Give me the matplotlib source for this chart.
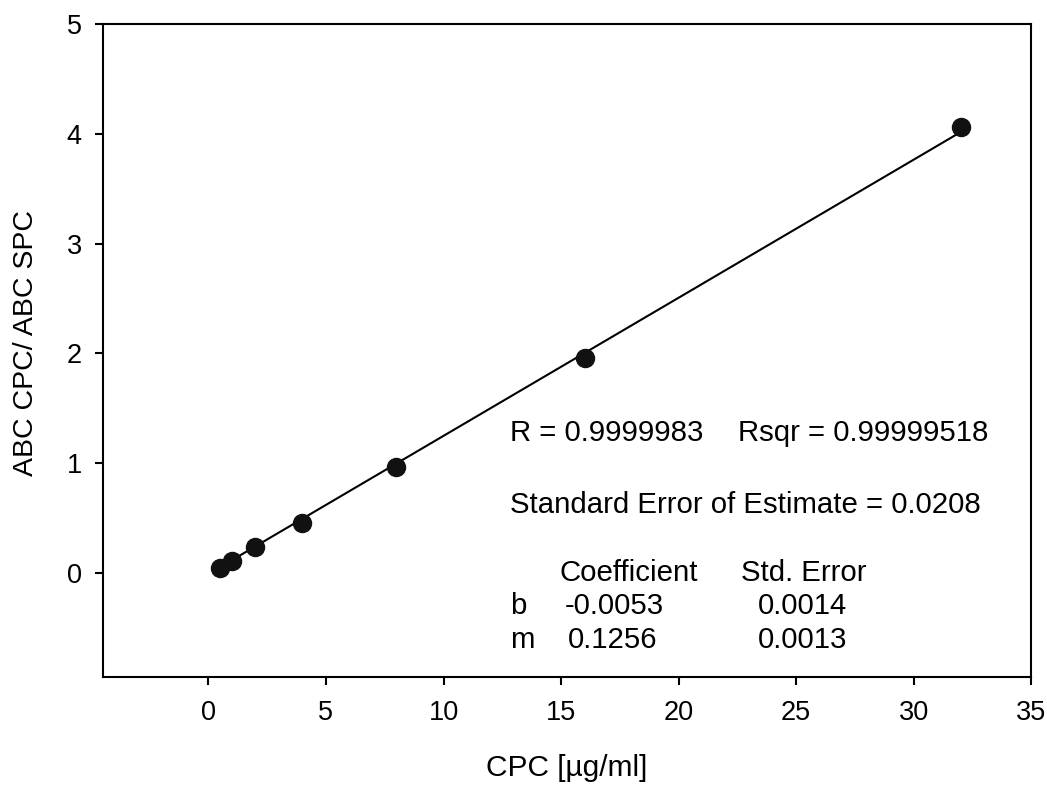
import matplotlib
matplotlib.use("Agg")
import matplotlib.pyplot as plt
import numpy as np

plt.rcParams['font.family'] = ['Liberation Sans', 'DejaVu Sans']

# measured data
conc = [0.5, 1, 2, 4, 8, 16, 32]
ratio = [0.05, 0.11, 0.24, 0.46, 0.97, 1.96, 4.06]

# regression result
b_coef, b_err = -0.0053, 0.0014
m_coef, m_err = 0.1256, 0.0013
r_val, rsqr_val, see_val = "0.9999983", "0.99999518", "0.0208"

xticks = [0, 5, 10, 15, 20, 25, 30, 35]
yticks = [0, 1, 2, 3, 4, 5]

fig = plt.figure(figsize=(10.47, 7.86), dpi=100)
ax = fig.add_axes([0.098, 0.139, 0.887, 0.831])

xfit = np.array([conc[0], conc[-1]])
ax.plot(xfit, m_coef * xfit + b_coef, color='black', lw=1.5, zorder=2)
ax.plot(conc, ratio, 'o', color='#111111', ms=13, zorder=3)

ax.set_xlim(-4.5, 35)
ax.set_ylim(-0.94, 5)
ax.set_xticks(xticks)
ax.set_yticks(yticks)
ax.tick_params(direction='out', length=6, width=1.5, labelsize=19.5)
ax.tick_params(axis='x', pad=11)
ax.tick_params(axis='y', pad=9)
for s in ax.spines.values():
    s.set_linewidth(1.5)

ax.set_xlabel('CPC [\u00b5g/ml]', fontsize=21.5, labelpad=20)
ax.set_ylabel('ABC CPC/ ABC SPC', fontsize=20.5)
ax.yaxis.set_label_coords(-0.0685, 0.511)

fs = 21.2
tx = lambda px: -4.5 + (px - 102.7) / 23.51
ty = lambda py: 5 - (py - 24) / 109.9
ax.text(tx(510), ty(433), 'R = ' + r_val, fontsize=fs, va='center')
ax.text(tx(738), ty(433), 'Rsqr = ' + rsqr_val, fontsize=fs, va='center')
ax.text(tx(510), ty(505), 'Standard Error of Estimate = ' + see_val, fontsize=fs, va='center')
ax.text(tx(560), ty(573), 'Coefficient', fontsize=fs, va='center')
ax.text(tx(741), ty(573), 'Std. Error', fontsize=fs, va='center')
ax.text(tx(510), ty(606), 'b', fontsize=fs, va='center')
ax.text(tx(565), ty(606), '%.4f' % b_coef, fontsize=fs, va='center')
ax.text(tx(758), ty(606), '%.4f' % b_err, fontsize=fs, va='center')
ax.text(tx(510), ty(640), 'm', fontsize=fs, va='center')
ax.text(tx(568), ty(640), '%.4f' % m_coef, fontsize=fs, va='center')
ax.text(tx(758), ty(640), '%.4f' % m_err, fontsize=fs, va='center')

fig.savefig('out.png', dpi=100)
